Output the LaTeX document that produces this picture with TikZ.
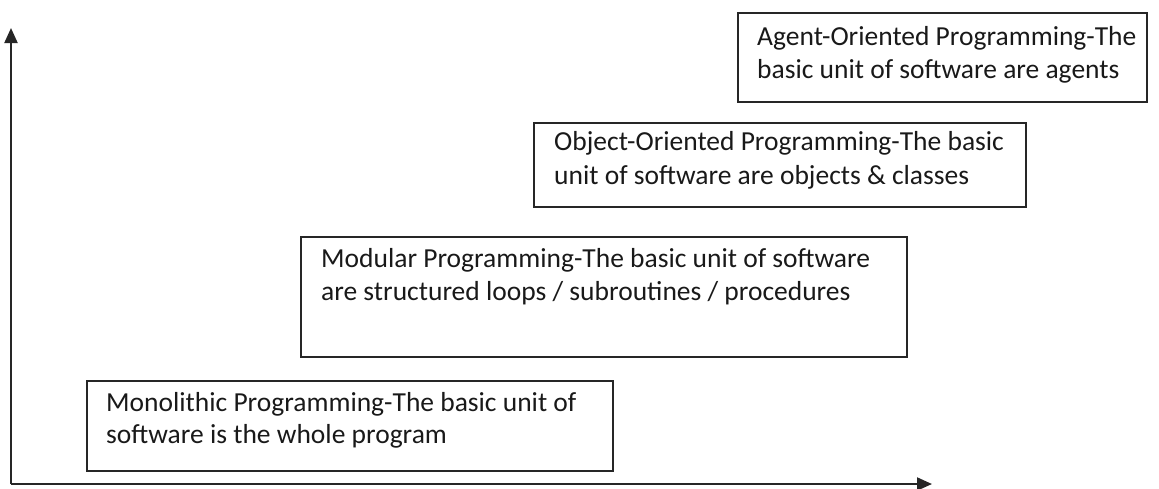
\documentclass[tikz,border=0pt]{standalone}
\usepackage{fontspec}
\setmainfont{Carlito}
\usetikzlibrary{arrows.meta}
\begin{document}
\begin{tikzpicture}[x=1pt,y=-1pt,
  stage/.style={draw=black!85, line width=1.6pt, anchor=north west, inner sep=0pt},
  txt/.style={anchor=base west, inner sep=0pt, font=\fontsize{27.5}{32}\selectfont, text=black!90},
  axis/.style={draw=black!85, line width=2pt, -{Triangle[length=15pt,width=13pt]}}]
\useasboundingbox (0,0) rectangle (1159,488);
% axes
\coordinate (origin) at (11,484);
\coordinate (ytip) at (11,28);
\coordinate (xtip) at (932,484);
\draw[axis] (origin) -- (ytip);
\draw[axis] (origin) -- (xtip);
% stages
\node[stage, minimum width=526pt, minimum height=90pt] (mono) at (86,380) {};
\node[txt] (mono1) at (106,411) {Monolithic Programming-The basic unit of};
\node[txt] (mono2) at (106,443) {software is the whole program};

\node[stage, minimum width=606pt, minimum height=120pt] (modu) at (300,236) {};
\node[txt] (modu1) at (321,267) {Modular Programming-The basic unit of software};
\node[txt] (modu2) at (321,300) {are structured loops / subroutines / procedures};

\node[stage, minimum width=492pt, minimum height=84pt] (oop) at (533,122) {};
\node[txt] (oop1) at (554,150) {Object-Oriented Programming-The basic};
\node[txt] (oop2) at (554,184) {unit of software are objects \& classes};

\node[stage, minimum width=409pt, minimum height=89pt] (aop) at (737,12) {};
\node[txt] (aop1) at (757,45) {Agent-Oriented Programming-The};
\node[txt] (aop2) at (757,78) {basic unit of software are agents};
\end{tikzpicture}
\end{document}
